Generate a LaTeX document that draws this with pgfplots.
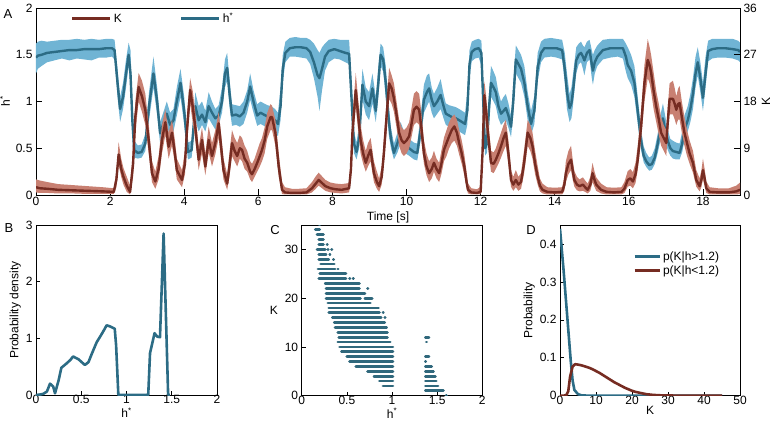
\documentclass[border=0pt]{standalone}
\usepackage{fontspec}
\setmainfont{Liberation Sans}
\usepackage{pgfplots}
\pgfplotsset{compat=1.18}
\usepackage{pgfplotstable}

\definecolor{hline}{RGB}{44,108,133}
\definecolor{hband}{RGB}{112,180,212}
\definecolor{kline}{RGB}{118,44,34}
\definecolor{kband}{RGB}{200,128,114}
\definecolor{dotc}{RGB}{48,104,124}

\pgfplotstableread{
t h lo hi
0.00 1.47 1.30 1.62
0.05 1.49 1.35 1.64
0.15 1.50 1.38 1.65
0.30 1.52 1.42 1.64
0.50 1.53 1.44 1.65
0.70 1.54 1.46 1.66
0.90 1.55 1.44 1.66
1.10 1.55 1.46 1.67
1.30 1.56 1.45 1.66
1.50 1.56 1.44 1.67
1.70 1.56 1.47 1.66
1.90 1.57 1.47 1.67
2.05 1.57 1.48 1.67
2.12 1.55 1.45 1.66
2.20 1.20 1.05 1.35
2.27 0.92 0.78 1.05
2.35 1.05 0.92 1.20
2.43 1.30 1.15 1.45
2.50 1.50 1.38 1.63
2.55 1.30 1.15 1.55
2.60 0.80 0.65 1.00
2.65 0.48 0.40 0.58
2.75 0.45 0.39 0.53
2.85 0.46 0.40 0.54
2.95 0.55 0.47 0.65
3.05 0.95 0.80 1.10
3.17 1.30 1.15 1.48
3.27 1.00 0.85 1.15
3.35 0.66 0.55 0.78
3.45 0.78 0.65 0.90
3.53 0.87 0.75 1.00
3.62 0.75 0.62 0.88
3.71 0.80 0.68 0.92
3.80 1.00 0.85 1.15
3.90 1.20 1.05 1.35
4.00 0.90 0.75 1.05
4.10 0.46 0.38 0.56
4.20 0.48 0.40 0.58
4.30 0.95 0.80 1.10
4.39 0.80 0.68 0.95
4.48 0.86 0.75 1.00
4.57 0.78 0.68 0.90
4.66 0.95 0.82 1.10
4.75 0.88 0.76 1.00
4.84 0.82 0.70 0.92
4.93 0.85 0.74 0.96
5.02 1.00 0.88 1.15
5.10 1.30 1.15 1.45
5.16 1.36 1.22 1.52
5.22 1.10 0.95 1.25
5.29 0.85 0.74 0.97
5.40 0.86 0.75 0.96
5.50 0.84 0.73 0.95
5.60 0.88 0.76 1.00
5.70 1.00 0.88 1.12
5.78 1.16 1.02 1.30
5.87 1.00 0.88 1.12
5.97 0.85 0.74 0.97
6.06 0.88 0.76 1.00
6.15 0.86 0.74 0.98
6.25 0.84 0.72 0.96
6.35 0.83 0.70 0.95
6.45 0.80 0.66 0.92
6.53 0.76 0.63 0.88
6.60 0.95 0.80 1.15
6.66 1.35 1.20 1.50
6.73 1.52 1.42 1.64
6.85 1.57 1.48 1.68
7.00 1.58 1.48 1.69
7.15 1.58 1.47 1.68
7.30 1.57 1.46 1.68
7.40 1.53 1.40 1.66
7.50 1.42 1.25 1.62
7.60 1.28 1.05 1.55
7.65 1.25 0.90 1.52
7.72 1.35 1.12 1.58
7.80 1.48 1.33 1.62
7.90 1.54 1.42 1.66
8.05 1.56 1.46 1.67
8.20 1.54 1.45 1.66
8.35 1.52 1.42 1.66
8.45 1.51 1.40 1.66
8.52 1.00 0.85 1.20
8.58 0.55 0.45 0.68
8.65 0.46 0.38 0.56
8.72 0.60 0.50 0.75
8.81 1.18 1.02 1.35
8.90 1.00 0.86 1.15
8.99 0.95 0.80 1.10
9.08 1.14 0.98 1.30
9.17 0.90 0.78 1.05
9.24 1.20 1.05 1.38
9.30 1.50 1.38 1.62
9.37 1.45 1.32 1.58
9.44 1.20 1.05 1.38
9.52 0.80 0.65 0.95
9.58 0.60 0.50 0.72
9.66 0.45 0.38 0.55
9.75 0.55 0.45 0.66
9.84 0.66 0.55 0.78
9.95 0.55 0.45 0.66
10.07 0.50 0.42 0.60
10.20 0.46 0.38 0.56
10.29 0.45 0.37 0.55
10.38 0.70 0.58 0.85
10.47 1.02 0.88 1.18
10.55 1.10 0.95 1.28
10.61 1.14 1.00 1.30
10.68 1.02 0.88 1.15
10.74 0.95 0.82 1.08
10.83 1.00 0.87 1.15
10.92 1.07 0.92 1.24
11.00 0.95 0.82 1.08
11.06 0.87 0.75 0.98
11.15 0.85 0.73 0.96
11.24 0.83 0.72 0.95
11.33 0.82 0.70 0.94
11.42 0.80 0.68 0.92
11.50 0.78 0.66 0.90
11.58 0.76 0.64 0.88
11.64 0.90 0.75 1.10
11.70 1.40 1.25 1.55
11.76 1.53 1.43 1.64
11.85 1.56 1.46 1.66
11.95 1.57 1.47 1.67
12.02 1.52 1.38 1.65
12.07 1.00 0.85 1.20
12.12 0.50 0.42 0.62
12.17 0.55 0.45 0.68
12.23 0.95 0.80 1.12
12.28 1.20 1.05 1.38
12.35 1.15 1.00 1.32
12.41 1.10 0.95 1.26
12.48 0.95 0.82 1.10
12.55 0.87 0.75 1.00
12.62 0.90 0.78 1.05
12.68 0.93 0.80 1.08
12.75 0.85 0.72 0.98
12.82 0.73 0.62 0.85
12.88 1.00 0.85 1.20
12.95 1.45 1.30 1.60
13.02 1.40 1.25 1.55
13.09 1.35 1.20 1.50
13.18 1.20 1.05 1.38
13.27 0.95 0.80 1.10
13.36 0.76 0.64 0.90
13.45 0.90 0.76 1.06
13.54 1.37 1.22 1.52
13.63 1.52 1.42 1.64
13.72 1.57 1.47 1.67
13.90 1.57 1.48 1.68
14.05 1.57 1.47 1.67
14.20 1.55 1.45 1.66
14.27 1.35 1.20 1.52
14.33 1.10 0.92 1.30
14.40 0.93 0.78 1.08
14.45 0.98 0.82 1.15
14.49 1.10 0.95 1.28
14.58 1.44 1.30 1.58
14.65 1.50 1.40 1.62
14.71 1.52 1.42 1.64
14.76 1.48 1.35 1.60
14.80 1.44 1.28 1.58
14.87 1.52 1.42 1.64
14.94 1.55 1.45 1.66
15.00 1.40 1.25 1.55
15.03 1.33 1.18 1.50
15.08 1.42 1.30 1.55
15.15 1.48 1.38 1.60
15.30 1.55 1.45 1.66
15.50 1.57 1.47 1.67
15.70 1.57 1.48 1.67
15.84 1.57 1.46 1.67
15.92 1.48 1.32 1.62
15.97 1.39 1.25 1.58
16.06 1.33 1.18 1.50
16.15 1.20 1.05 1.38
16.24 0.90 0.76 1.05
16.33 0.58 0.48 0.70
16.40 0.42 0.35 0.52
16.47 0.36 0.30 0.45
16.55 0.32 0.26 0.40
16.62 0.33 0.27 0.42
16.70 0.40 0.33 0.50
16.78 0.55 0.45 0.66
16.85 0.70 0.58 0.85
16.92 0.82 0.68 0.98
16.98 0.70 0.58 0.85
17.05 0.58 0.48 0.70
17.12 0.50 0.42 0.60
17.19 0.47 0.39 0.58
17.28 0.46 0.38 0.56
17.37 0.45 0.38 0.55
17.44 0.55 0.46 0.68
17.50 0.70 0.58 0.85
17.59 0.80 0.68 0.95
17.66 0.92 0.78 1.08
17.73 1.08 0.92 1.25
17.80 1.30 1.15 1.48
17.86 1.42 1.28 1.58
17.93 1.25 1.10 1.42
18.00 1.04 0.90 1.20
18.07 1.30 1.15 1.48
18.14 1.54 1.43 1.65
18.25 1.56 1.46 1.67
18.40 1.57 1.47 1.67
18.60 1.57 1.47 1.67
18.80 1.56 1.46 1.67
18.95 1.55 1.44 1.65
19.00 1.53 1.42 1.63
}\hdata

\pgfplotstableread{
t k lo hi
0.00 1.5 0.5 3.0
0.10 1.3 0.4 2.8
0.30 1.2 0.4 2.5
0.60 1.0 0.3 2.1
1.00 0.9 0.3 1.9
1.40 0.8 0.2 1.7
1.80 0.7 0.2 1.5
2.10 0.6 0.2 1.3
2.17 3.0 1.5 4.5
2.23 7.8 5.8 10.2
2.30 5.0 3.5 7.0
2.36 3.5 2.0 5.2
2.45 1.8 0.6 3.5
2.54 0.6 0.1 1.8
2.62 6.0 3.5 9.0
2.68 15.0 12.0 18.0
2.77 20.8 18.0 23.5
2.86 19.0 16.0 22.0
2.95 16.4 13.5 19.5
3.05 10.0 7.5 13.0
3.13 4.2 2.5 6.5
3.22 2.6 1.2 4.5
3.31 5.0 3.0 7.5
3.40 10.6 8.0 13.5
3.49 14.0 11.5 16.5
3.58 9.3 7.0 12.0
3.67 12.0 9.5 14.5
3.75 8.0 6.0 10.5
3.80 4.8 3.0 7.0
3.94 2.9 1.5 4.8
4.02 6.0 4.0 8.5
4.07 12.0 9.5 15.0
4.16 20.2 17.5 22.5
4.23 17.0 14.0 20.0
4.30 13.0 10.5 16.0
4.39 6.8 4.8 9.2
4.48 10.6 8.0 13.0
4.57 5.5 3.8 8.0
4.66 10.6 8.2 13.2
4.75 7.5 5.5 10.0
4.84 10.0 7.8 12.5
4.93 13.8 11.0 16.0
5.00 9.0 6.5 11.5
5.06 4.8 3.0 7.0
5.16 2.2 1.0 4.0
5.22 5.5 3.5 8.0
5.29 10.0 7.5 12.5
5.36 8.5 6.5 11.0
5.43 7.5 5.5 10.0
5.50 9.0 7.0 11.5
5.56 8.7 6.5 11.0
5.63 7.0 5.0 9.5
5.70 6.2 4.5 8.5
5.78 4.5 3.0 6.5
5.83 4.0 2.5 6.0
5.90 5.0 3.5 7.0
5.97 6.2 4.5 8.5
6.04 7.5 5.5 10.0
6.10 8.7 6.5 11.0
6.17 10.5 8.0 13.0
6.24 13.2 10.8 15.8
6.33 15.0 12.5 17.5
6.37 15.0 12.5 17.2
6.46 12.0 9.5 14.5
6.55 5.5 3.5 8.0
6.64 1.0 0.2 2.5
6.72 0.5 0.1 1.5
6.90 0.4 0.1 1.2
7.10 0.4 0.1 1.2
7.30 0.5 0.1 1.3
7.45 1.3 0.5 2.5
7.55 2.2 1.2 3.6
7.63 2.9 1.8 4.3
7.72 2.3 1.3 3.6
7.81 1.7 0.8 2.9
7.95 1.3 0.5 2.4
8.09 1.1 0.4 2.2
8.25 1.0 0.3 2.1
8.45 1.3 0.5 2.3
8.50 5.0 3.0 7.5
8.54 12.0 9.5 15.0
8.63 20.2 17.0 23.5
8.70 15.0 12.0 18.0
8.76 10.6 8.0 13.5
8.83 8.0 6.0 10.5
8.90 6.2 4.5 8.5
8.96 7.5 5.5 10.0
9.03 8.7 6.5 11.0
9.12 4.2 2.5 6.5
9.20 2.5 1.2 4.5
9.26 1.7 0.6 3.2
9.33 3.5 2.0 5.5
9.39 8.1 6.0 11.0
9.46 15.0 12.0 18.0
9.53 21.5 18.5 24.5
9.60 20.5 17.5 23.0
9.66 18.6 16.0 21.5
9.73 15.5 13.0 18.0
9.80 12.0 9.5 14.5
9.87 10.5 8.0 13.0
9.93 10.0 7.5 12.5
10.00 10.5 8.0 13.0
10.07 11.3 9.0 14.0
10.13 13.5 11.0 16.5
10.20 16.4 13.5 19.5
10.27 17.0 14.0 20.0
10.34 16.4 13.5 19.5
10.40 13.0 10.5 16.0
10.47 8.0 6.0 10.5
10.54 5.5 3.8 8.0
10.61 4.2 2.5 6.5
10.68 5.0 3.2 7.2
10.74 6.2 4.5 8.5
10.81 5.0 3.2 7.0
10.88 4.2 2.5 6.2
10.94 6.0 4.0 8.5
11.01 8.7 6.5 11.0
11.08 10.0 7.5 12.5
11.15 11.3 9.0 14.0
11.22 12.5 10.0 15.0
11.29 13.2 10.5 15.5
11.36 12.0 9.5 14.5
11.42 10.0 7.8 12.5
11.49 8.0 6.0 10.5
11.56 5.5 3.8 7.8
11.62 2.5 1.2 4.5
11.66 1.0 0.3 2.2
11.75 0.5 0.1 1.3
11.90 0.4 0.1 1.1
12.00 0.6 0.1 1.6
12.05 8.0 5.5 11.0
12.10 19.2 16.0 22.0
12.15 16.0 13.0 19.0
12.19 12.5 10.0 15.5
12.28 6.2 4.5 8.5
12.35 6.0 4.2 8.2
12.41 6.8 5.0 9.0
12.48 8.0 6.0 10.5
12.55 9.4 7.2 12.0
12.62 11.0 8.5 13.5
12.68 12.0 9.5 14.5
12.75 8.0 5.8 10.5
12.82 2.9 1.6 4.8
12.88 2.0 0.8 3.5
12.95 2.9 1.5 4.8
13.02 2.0 0.8 3.5
13.09 2.5 1.2 4.2
13.17 6.0 4.0 8.5
13.27 12.0 9.5 14.5
13.34 11.0 8.5 13.5
13.40 9.4 7.0 12.0
13.47 6.0 4.0 8.5
13.54 3.5 2.0 5.5
13.60 1.8 0.7 3.2
13.67 1.0 0.3 2.2
13.80 0.6 0.1 1.5
14.00 0.5 0.1 1.4
14.20 0.6 0.1 1.5
14.26 2.0 0.8 3.5
14.30 4.2 2.5 6.5
14.37 6.0 4.0 8.5
14.44 6.8 4.8 9.5
14.49 4.5 2.8 6.5
14.53 2.9 1.6 4.6
14.60 2.0 0.9 3.5
14.67 1.7 0.7 3.0
14.76 2.0 0.8 3.4
14.82 1.5 0.6 2.8
14.89 1.0 0.3 2.2
14.96 2.0 0.8 3.5
15.02 4.2 2.5 6.2
15.07 3.0 1.6 4.6
15.12 2.0 0.8 3.4
15.25 1.0 0.3 2.2
15.40 0.6 0.1 1.5
15.60 0.5 0.1 1.4
15.80 0.6 0.1 1.5
15.88 1.2 0.4 2.5
15.97 2.9 1.6 4.6
16.04 3.2 1.8 5.0
16.11 2.6 1.3 4.4
16.18 4.0 2.3 6.2
16.24 6.8 4.8 9.5
16.33 13.2 10.5 16.0
16.42 21.5 18.0 25.0
16.51 26.0 22.5 30.0
16.56 25.0 21.5 28.5
16.60 23.6 20.0 27.0
16.67 20.0 16.5 23.5
16.74 17.0 14.0 20.0
16.81 14.5 11.5 17.5
16.87 12.0 9.5 15.0
16.94 11.0 8.5 13.5
17.01 10.0 7.5 12.5
17.05 14.0 11.5 17.0
17.10 18.5 15.5 21.5
17.19 18.5 15.5 22.0
17.24 17.5 14.5 20.5
17.28 16.4 13.5 19.0
17.33 17.5 14.5 20.5
17.37 17.7 14.5 21.0
17.43 15.0 12.0 18.0
17.50 12.0 9.5 15.0
17.57 10.0 7.5 12.5
17.64 8.0 6.0 10.5
17.73 6.2 4.3 8.5
17.82 2.9 1.6 4.8
17.91 1.7 0.7 3.2
17.96 3.0 1.6 4.8
18.00 4.8 3.0 7.0
18.05 3.0 1.6 4.8
18.09 1.3 0.4 2.6
18.18 0.6 0.1 1.5
18.40 0.5 0.1 1.3
18.70 0.5 0.1 1.3
18.90 0.7 0.1 1.8
19.00 1.0 0.2 2.4
}\kdata

\pgfplotstableread{
h d
0 0
0.05 0.01
0.08 0.02
0.12 0.06
0.155 0.20
0.19 0.15
0.21 0.03
0.25 0.26
0.28 0.48
0.34 0.56
0.38 0.62
0.41 0.68
0.47 0.63
0.54 0.53
0.58 0.58
0.62 0.74
0.67 0.93
0.72 1.06
0.76 1.17
0.78 1.23
0.82 1.21
0.87 1.17
0.885 0.88
0.91 0
1.24 0
1.26 0.74
1.31 1.09
1.34 1.03
1.37 1.02
1.41 2.85
1.46 0
1.48 0
}\bdata

\pgfplotstableread{
h k
0.195 35
0.200 35
nan nan
0.15 34
0.20 34
nan nan
0.17 33
0.24 33
nan nan
0.19 32
0.24 32
nan nan
0.19 31
0.24 31
nan nan
0.28 31
0.284 31
nan nan
0.17 30
0.26 30
nan nan
0.29 30
0.294 30
nan nan
0.33 30
0.334 30
nan nan
0.19 29
0.27 29
nan nan
0.31 29
0.314 29
nan nan
0.19 28
0.30 28
nan nan
0.35 28
0.354 28
nan nan
0.21 27
0.36 27
nan nan
0.18 26
0.37 26
nan nan
0.40 26
0.404 26
nan nan
0.20 25
0.49 25
nan nan
0.19 24
0.49 24
nan nan
0.53 24
0.534 24
nan nan
0.57 24
0.574 24
nan nan
0.26 23
0.64 23
nan nan
0.27 22
0.64 22
nan nan
0.73 22
0.734 22
nan nan
0.27 21
0.70 21
nan nan
0.27 20
0.65 20
nan nan
0.70 20
0.78 20
nan nan
0.29 19
0.76 19
nan nan
0.30 18
0.85 18
nan nan
0.30 17
0.86 17
nan nan
0.90 17
0.904 17
nan nan
0.34 16
0.88 16
nan nan
0.92 16
0.924 16
nan nan
0.36 15
0.92 15
nan nan
0.37 14
0.94 14
nan nan
0.40 13
0.95 13
nan nan
0.41 12
0.95 12
nan nan
0.40 11
0.98 11
nan nan
0.42 10
1.01 10
nan nan
0.44 9
1.01 9
nan nan
0.50 8
1.01 8
nan nan
0.53 7
1.01 7
nan nan
0.60 6
1.01 6
nan nan
0.73 5
1.01 5
nan nan
0.80 4
1.01 4
nan nan
0.86 3
1.01 3
nan nan
0.90 2
1.01 2
nan nan
1.37 12
1.41 12
nan nan
1.38 11
1.384 11
nan nan
1.37 8
1.41 8
nan nan
1.37 7
1.374 7
nan nan
1.37 6
1.44 6
nan nan
1.37 5
1.46 5
nan nan
1.37 4
1.48 4
nan nan
1.37 3
1.49 3
nan nan
1.37 2
1.51 2
nan nan
1.37 1
1.57 1
nan nan
1.60 0
1.604 0
}\cdata

\pgfplotstableread{
k p
0 0.44
1 0.33
2 0.21
3 0.09
3.5 0.04
4 0.015
5 0.004
6 0.001
8 0
45 0
}\dblue

\pgfplotstableread{
k p
0 0
1 0
1.8 0.002
2.3 0.012
2.8 0.05
3.5 0.077
4.2 0.083
5 0.082
6 0.080
7 0.077
8 0.074
9 0.070
10 0.065
11 0.060
12 0.054
13 0.048
14 0.042
15 0.036
16 0.031
17 0.026
18 0.021
19 0.017
20 0.013
21 0.010
22 0.008
23 0.006
24 0.004
25 0.003
26 0.002
28 0.001
30 0.0005
35 0.0002
40 0.0001
45 0
}\dred

\pgfplotsset{
  every axis/.append style={
    scale only axis, anchor=south west,
    axis line style={line width=0.7pt},
    tick style={line width=0.6pt, black},
    tick align=inside, major tick length=4pt,
    tick label style={font=\fontsize{12}{13}\selectfont},
    label style={font=\fontsize{12}{13}\selectfont},
    /pgf/number format/assume math mode=true,
  },
}

\begin{document}
\begin{tikzpicture}
\useasboundingbox (0pt,0pt) rectangle (773pt,-421pt);

% Panel A, left axis
\begin{axis}[at={(36pt,-195pt)}, width=704pt, height=187pt,
  xmin=0, xmax=19, ymin=0, ymax=2,
  xtick={0,2,4,6,8,10,12,14,16,18}, ytick={0,0.5,1,1.5,2},
  xtick pos=bottom, ytick pos=left,
  major tick length=6pt,
  xlabel={Time [s]}, ylabel={h\textsuperscript{*}},
  xticklabel style={yshift=1pt},
  xlabel style={yshift=1pt}, ylabel style={yshift=-1pt}]
\addplot[draw=none, fill=none, stack plots=y] table[x=t,y=lo]{\hdata};
\addplot[fill=hband, draw=none, stack plots=y] table[x=t,y expr=\thisrow{hi}-\thisrow{lo}]{\hdata} \closedcycle;
\addplot[hline, line width=2.4pt, line join=round, stack plots=false] table[x=t,y=h]{\hdata};
\end{axis}

% Panel A, right axis
\begin{axis}[at={(36pt,-195pt)}, width=704pt, height=187pt,
  xmin=0, xmax=19, ymin=0, ymax=36,
  hide x axis, axis y line*=right, ytick={0,9,18,27,36},
  major tick length=6pt,
  ylabel={K}, ylabel style={yshift=2pt},
  legend columns=2,
  legend style={at={(0.045,0.995)}, anchor=north west, draw=none, fill=none,
    font=\fontsize{12}{13}\selectfont,
    /tikz/every even column/.append style={column sep=56pt}},
  legend image code/.code={\draw[#1] (0pt,0pt) -- (38pt,0pt);}]
\addplot[draw=none, fill=none, stack plots=y, forget plot] table[x=t,y=lo]{\kdata};
\addplot[fill=kband, draw=none, stack plots=y, forget plot] table[x=t,y expr=\thisrow{hi}-\thisrow{lo}]{\kdata} \closedcycle;
\addplot[kline, line width=2.4pt, line join=round, stack plots=false, forget plot] table[x=t,y=k]{\kdata};
\addlegendimage{kline, line width=3pt}
\addlegendentry{K}
\addlegendimage{hline, line width=3pt}
\addlegendentry{h\textsuperscript{*}}
\end{axis}

% Panel B
\begin{axis}[at={(36pt,-395pt)}, width=181pt, height=170pt,
  xmin=0, xmax=2, ymin=0, ymax=3,
  xtick={0,0.5,1,1.5,2}, ytick={0,1,2,3},
  xtick pos=bottom, ytick pos=left,
  xticklabel style={yshift=3pt},
  xlabel={h\textsuperscript{*}}, ylabel={Probability density},
  xlabel style={inner sep=0pt, yshift=0pt}, ylabel style={yshift=-2pt}]
\addplot[hline, line width=2.6pt, line join=round] table[x=h,y=d]{\bdata};
\end{axis}

% Panel C
\begin{axis}[at={(301.7pt,-395.7pt)}, width=180.6pt, height=170.7pt,
  xmin=0, xmax=2, ymin=0, ymax=35,
  xtick={0,0.5,1,1.5,2}, ytick={0,10,20,30},
  xtick pos=bottom, ytick pos=left,
  xticklabel style={yshift=3pt},
  xlabel={h\textsuperscript{*}}, ylabel={K},
  xlabel style={inner sep=0pt, yshift=0pt}, ylabel style={rotate=-90}]
\addplot[dotc, line width=2.8pt, line cap=round, unbounded coords=jump] table[x=h,y=k]{\cdata};
\end{axis}

% Panel D
\begin{axis}[at={(560pt,-395.7pt)}, width=180pt, height=170.7pt,
  xmin=0, xmax=50, ymin=0, ymax=0.45,
  xtick={0,10,20,30,40,50}, ytick={0,0.1,0.2,0.3,0.4},
  xtick pos=bottom, ytick pos=left,
  xticklabel style={yshift=3pt},
  xlabel={K}, ylabel={Probability},
  xlabel style={yshift=5pt}, ylabel style={yshift=-2pt},
  legend style={at={(0.39,0.87)}, anchor=north west, draw=none, fill=none,
    font=\fontsize{12}{13}\selectfont},
  legend image code/.code={\draw[#1] (0pt,0pt) -- (25pt,0pt);}]
\addplot[hline, line width=2.6pt, line join=round] table[x=k,y=p]{\dblue};
\addlegendentry{p(K|h>1.2)}
\addplot[kline, line width=2.6pt, line join=round] table[x=k,y=p]{\dred};
\addlegendentry{p(K|h<1.2)}
\end{axis}

\node[font=\fontsize{13}{14}\selectfont] at (8pt,-14pt) {A};
\node[font=\fontsize{13}{14}\selectfont] at (9pt,-228pt) {B};
\node[font=\fontsize{13}{14}\selectfont] at (275pt,-230pt) {C};
\node[font=\fontsize{13}{14}\selectfont] at (531pt,-230pt) {D};
\end{tikzpicture}
\end{document}
